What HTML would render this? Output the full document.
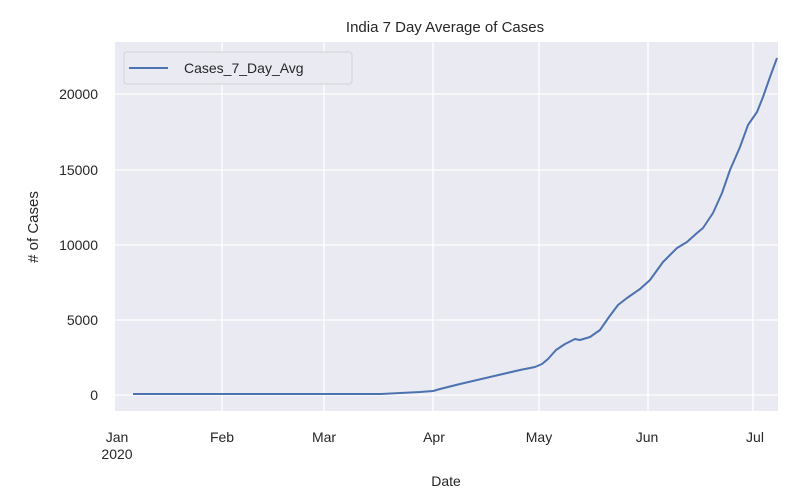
<!DOCTYPE html>
<html><head><style>body{margin:0;background:#fff}</style></head><body>
<svg width="810" height="498" xmlns="http://www.w3.org/2000/svg" font-family="Liberation Sans, sans-serif" fill="#262626">
<rect x="115" y="42" width="663" height="369" fill="#eaeaf2"/>
<g stroke="#fff" stroke-width="1.3">
<line x1="115" x2="778" y1="395" y2="395"/><line x1="115" x2="778" y1="320" y2="320"/>
<line x1="115" x2="778" y1="245" y2="245"/><line x1="115" x2="778" y1="170" y2="170"/>
<line x1="115" x2="778" y1="94" y2="94"/>
<line x1="222" x2="222" y1="42" y2="411"/><line x1="324" x2="324" y1="42" y2="411"/>
<line x1="433" x2="433" y1="42" y2="411"/><line x1="539" x2="539" y1="42" y2="411"/>
<line x1="648" x2="648" y1="42" y2="411"/><line x1="753" x2="753" y1="42" y2="411"/>
</g>
<polyline fill="none" stroke="#4c72b0" stroke-width="2" stroke-linejoin="round" points="133,394 380,394 420,392 433,391 440,389 460,384 490,377 520,370 535,367 542,364 548,359 556,350 565,344 575,339 580,340 590,337 600,330 609,317 618,305 627,298 640,289 650,280 663,262 677,248 687,242 697,233 703,228 713,213 722,193 730,170 740,147 748,125 757,112 763,97 770,77 777,58"/>
<rect x="124" y="52" width="228" height="32" rx="3" fill="#eaeaf2" stroke="#ccc" stroke-opacity="0.8"/>
<line x1="129" x2="168" y1="68" y2="68" stroke="#4c72b0" stroke-width="2"/>
<text x="184" y="73" font-size="14">Cases_7_Day_Avg</text>
<text x="445" y="32" font-size="15" text-anchor="middle">India 7 Day Average of Cases</text>
<g font-size="14" text-anchor="end">
<text x="98" y="400">0</text><text x="98" y="325">5000</text><text x="98" y="250">10000</text>
<text x="98" y="175">15000</text><text x="98" y="99">20000</text>
</g>
<g font-size="14" text-anchor="middle">
<text x="117" y="442">Jan</text><text x="117" y="459">2020</text>
<text x="222" y="442">Feb</text><text x="324" y="442">Mar</text><text x="434" y="442">Apr</text>
<text x="539" y="442">May</text><text x="647" y="442">Jun</text><text x="755" y="442">Jul</text>
<text x="446" y="486">Date</text>
</g>
<text transform="translate(38,227) rotate(-90)" font-size="15" text-anchor="middle"># of Cases</text>
</svg>
</body></html>
